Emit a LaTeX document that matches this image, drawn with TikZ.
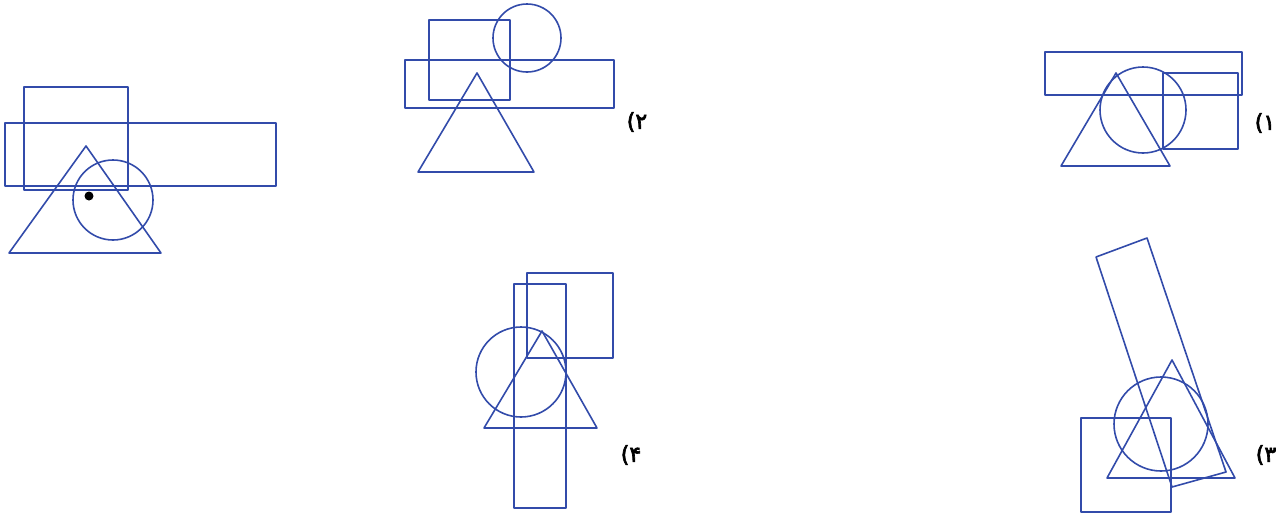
\documentclass[tikz,border=0pt]{standalone}
\usepackage{fontspec}
\newfontfamily\numfont[FakeBold=3]{DejaVu Sans}
\definecolor{ink}{RGB}{50,75,170}
\tikzset{
  figline/.style={draw=ink, line width=1.6pt, line join=round},
  lbl/.style={font=\numfont\fontsize{22}{22}\selectfont, text=black, inner sep=0pt}
}
\begin{document}
\begin{tikzpicture}[x=1pt,y=-1pt]
\useasboundingbox (0,0) rectangle (1284,517);
% reference figure
\draw[figline] (24,87) rectangle (128,190);
\draw[figline] (5,123) rectangle (276,186);
\draw[figline] (86,146) -- (9,253) -- (161,253) -- cycle;
\draw[figline] (113,200) circle (40pt);
\fill[black] (89,196) circle (4.5pt);
% option 2
\draw[figline] (429,20) rectangle (510,100);
\draw[figline] (405,60) rectangle (614,108);
\draw[figline] (527,38) circle (34pt);
\draw[figline] (477,73) -- (418,172) -- (534,172) -- cycle;
\node[lbl] (l2) at (637,122) {(۲};
% option 1
\draw[figline] (1045,52) rectangle (1242,95);
\draw[figline] (1163,73) rectangle (1238,149);
\draw[figline] (1143,110) circle (43pt);
\draw[figline] (1116,73) -- (1061,166) -- (1170,166) -- cycle;
\node[lbl] (l1) at (1265,123) {(۱};
% option 4
\draw[figline] (514,284) rectangle (566,508);
\draw[figline] (527,273) rectangle (613,358);
\draw[figline] (521,372) circle (45pt);
\draw[figline] (542,331) -- (484,428) -- (597,428) -- cycle;
\node[lbl] (l4) at (631,455) {(۴};
% option 3
\draw[figline] (1096,257) -- (1147,238) -- (1226,472) -- (1172,487) -- cycle;
\draw[figline] (1161,424) circle (47pt);
\draw[figline] (1172,360) -- (1107,478) -- (1235,478) -- cycle;
\draw[figline] (1081,418) rectangle (1171,512);
\node[lbl] (l3) at (1266,455) {(۳};
\end{tikzpicture}
\end{document}
